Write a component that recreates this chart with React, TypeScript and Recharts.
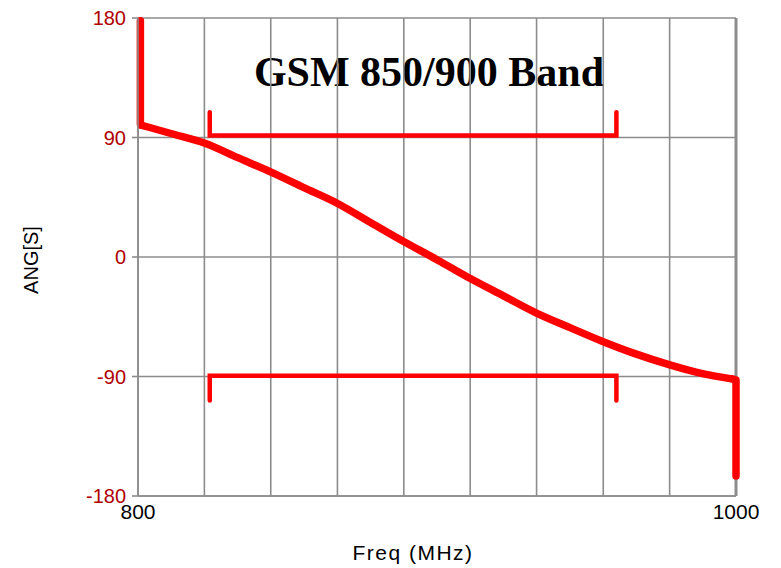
import React from "react";
import { LineChart, Line, XAxis, YAxis, CartesianGrid, ReferenceLine } from "recharts";

// phase of S vs frequency (MHz / degrees)
const FREQ = [800.8, 800.8, 801, 810.7, 822.4, 833.4, 844.5, 855.5, 866.6, 877.6, 889, 900, 911, 922.1, 933.1, 944.5, 955.2, 966.2, 977.6, 988, 999, 1000, 1000];
const ANGLE = [178, 100, 99.4, 93.2, 85.7, 74.8, 63.9, 52.2, 40.5, 26.2, 11.5, -2, -16, -29.1, -42, -53.2, -63.4, -72.8, -81.1, -87.5, -92, -92.5, -165];

// band markers (GSM 824–960 MHz)
const BAND_F = [824, 824, 960, 960];
const UPPER_A = [109, 91.5, 91.5, 109];
const LOWER_A = [-108, -89.5, -89.5, -108];

const X_TICKS = [800, 822.2, 844.4, 866.7, 888.9, 911.1, 933.3, 955.6, 977.8, 1000];
const Y_TICKS = [-180, -90, 0, 90, 180];

const curve = FREQ.map((f, i) => ({ f, ang: ANGLE[i] }));
// vertical jumps at both band edges drawn straight, the sweep itself smoothed
const head = curve.slice(0, 3);
const sweep = curve.slice(2, curve.length - 2);
const tail = curve.slice(curve.length - 3);
const upper = BAND_F.map((f, i) => ({ f, ang: UPPER_A[i] }));
const lower = BAND_F.map((f, i) => ({ f, ang: LOWER_A[i] }));

const GRID = "#8c8c8c";
const RED = "#ff0000";
const SANS = "'Liberation Sans', Arial, sans-serif";

export default function App() {
  return (
    <div style={{ position: "absolute", left: 0, top: 0, width: 781, height: 568, background: "#fff" }}>
      {/* title sits under the grid */}
      <svg width={781} height={568} style={{ position: "absolute", left: 0, top: 0 }}>
        <text x={429} y={86} textAnchor="middle" fontFamily="'Liberation Serif', serif" fontWeight="bold" fontSize={42} fill="#000">
          GSM 850/900 Band
        </text>
      </svg>
      <div style={{ position: "absolute", left: 0, top: 0 }}>
        <LineChart width={781} height={568} margin={{ top: 18, right: 45, bottom: 0, left: 0 }}>
          <CartesianGrid stroke={GRID} strokeWidth={1.6} />
          <XAxis
            dataKey="f"
            type="number"
            domain={[800, 1000]}
            ticks={X_TICKS}
            interval={0}
            height={72}
            tickLine={false}
            axisLine={{ stroke: GRID, strokeWidth: 1.6 }}
            tick={{ fill: "#000", fontSize: 21, fontFamily: SANS }}
            tickFormatter={(v: number) => (v === 800 || v === 1000 ? String(v) : "")}
            label={{
              content: () => (
                <text x={413} y={560} textAnchor="middle" fontFamily={SANS} fontSize={21} letterSpacing={1.5} fill="#000">
                  Freq (MHz)
                </text>
              ),
            }}
          />
          <YAxis
            type="number"
            domain={[-180, 180]}
            ticks={Y_TICKS}
            width={138}
            tickSize={6}
            tickMargin={6}
            tickLine={{ stroke: GRID, strokeWidth: 1.6 }}
            axisLine={{ stroke: GRID, strokeWidth: 1.6 }}
            tick={{ fill: "#b00000", fontSize: 20, fontFamily: SANS }}
            label={{
              content: () => (
                <text x={38} y={260} transform="rotate(-90 38 260)" textAnchor="middle" fontFamily={SANS} fontSize={20} fill="#000">
                  ANG[S]
                </text>
              ),
            }}
          />
          <ReferenceLine x={1000} stroke={GRID} strokeWidth={3} />
          <Line data={upper} dataKey="ang" type="linear" stroke={RED} strokeWidth={4.5} dot={false} strokeLinecap="round" strokeLinejoin="miter" isAnimationActive={false} />
          <Line data={lower} dataKey="ang" type="linear" stroke={RED} strokeWidth={4.5} dot={false} strokeLinecap="round" strokeLinejoin="miter" isAnimationActive={false} />
          <Line data={head} dataKey="ang" type="linear" stroke={RED} strokeWidth={7.5} dot={false} strokeLinecap="round" strokeLinejoin="round" isAnimationActive={false} />
          <Line data={sweep} dataKey="ang" type="monotone" stroke={RED} strokeWidth={7.5} dot={false} strokeLinecap="round" strokeLinejoin="round" isAnimationActive={false} />
          <Line data={tail} dataKey="ang" type="linear" stroke={RED} strokeWidth={7.5} dot={false} strokeLinecap="round" strokeLinejoin="round" isAnimationActive={false} />
        </LineChart>
      </div>
    </div>
  );
}
